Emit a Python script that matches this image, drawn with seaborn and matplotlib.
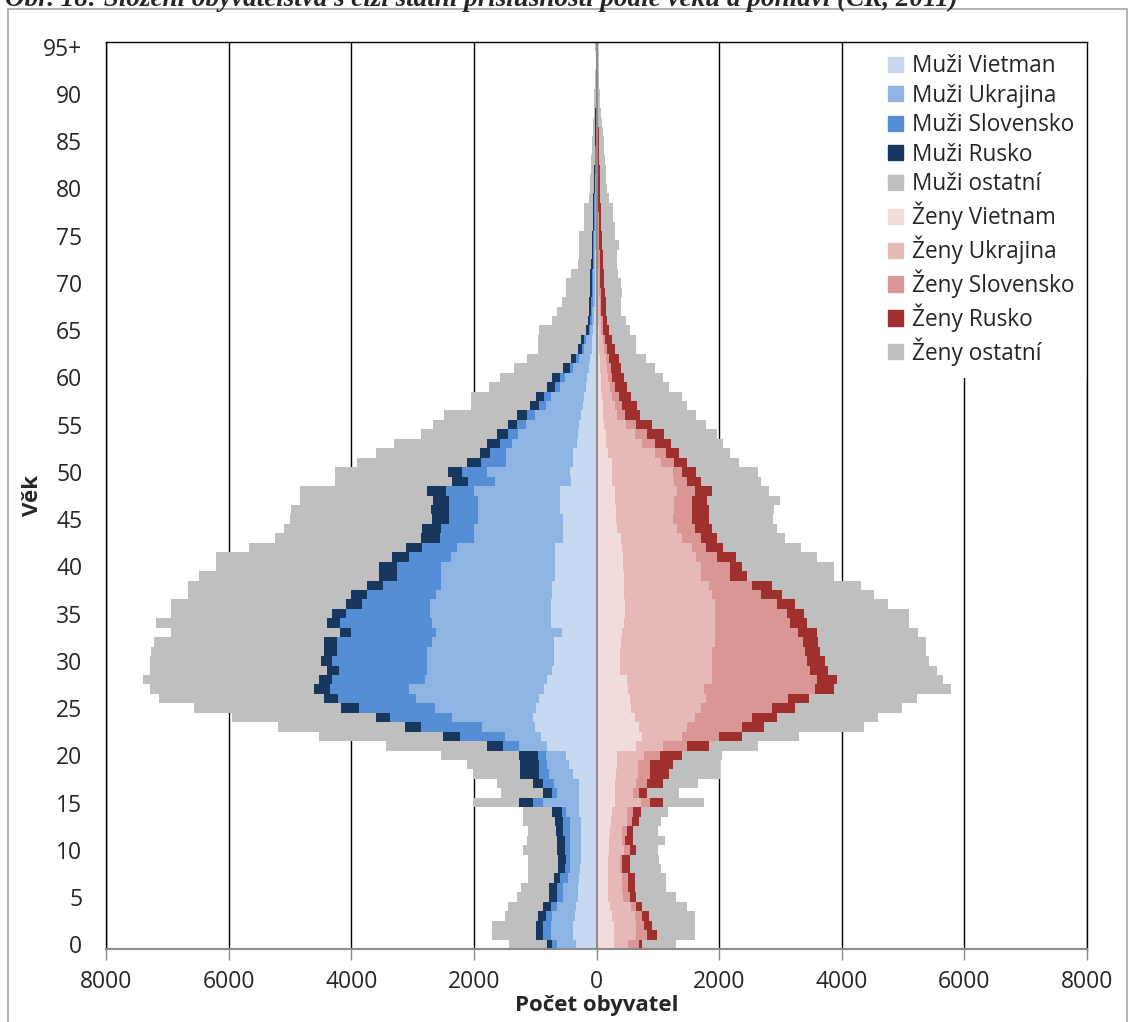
"""
Složení obyvatelstva s cizí státní příslušností podle věku a pohlaví (ČR, 2011)

Pyramida: muži vlevo, ženy vpravo, vrstvy podle státní příslušnosti.
"""

## Import packages
import numpy as np
import matplotlib.pyplot as plt
import matplotlib.patches as mpatches
import seaborn as sns


## Data (počty osob podle věku 0..95+)
ages = list(range(96))
age_ticks = list(range(0, 96, 5))
age_labels = [str(a) for a in age_ticks[:-1]] + ['95+']

muzi_vietnam = [330, 380, 380, 350, 330, 300, 300, 280, 270, 260, 250, 250, 250, 250, 280, 280, 280, 280, 390, 450,
                500, 800, 900, 1000, 1040, 980, 930, 850, 800, 720, 700, 690, 690, 570, 740, 740, 740, 720, 720, 680,
                670, 670, 670, 540, 540, 540, 600, 600, 600, 420, 440, 390, 390, 320, 300, 280, 250, 220, 200, 170,
                150, 120, 100, 80, 70, 50, 40, 35, 30, 30, 25, 25, 20, 20, 15, 15, 12, 10, 10, 8,
                8, 7, 6, 5, 5, 4, 4, 3, 3, 2, 2, 2, 1, 1, 1, 1]
muzi_ukrajina = [320, 370, 360, 370, 320, 250, 250, 180, 170, 180, 190, 190, 190, 190, 210, 600, 370, 420, 380, 350,
                 320, 460, 600, 860, 1310, 1660, 2010, 2200, 2000, 2040, 2060, 2070, 2000, 2040, 1950, 1980, 1980, 1890, 1810, 1850,
                 1860, 1700, 1600, 1450, 1450, 1390, 1340, 1340, 1390, 1240, 1340, 1080, 1080, 1060, 980, 870, 750, 600, 540, 430,
                 370, 260, 180, 120, 100, 60, 40, 35, 35, 30, 30, 25, 25, 20, 25, 20, 18, 18, 15, 14,
                 12, 10, 9, 8, 7, 6, 5, 5, 4, 3, 3, 2, 2, 1, 1, 1]
muzi_slovensko = [70, 130, 140, 100, 100, 100, 100, 130, 70, 60, 80, 80, 100, 110, 80, 160, 80, 180, 170, 140,
                  140, 270, 730, 1000, 1010, 1240, 1280, 1300, 1510, 1440, 1550, 1480, 1550, 1390, 1500, 1360, 1110, 1140, 960, 730,
                  730, 680, 580, 570, 540, 470, 460, 460, 460, 440, 410, 410, 270, 200, 160, 150, 130, 120, 110, 80,
                  80, 60, 50, 40, 30, 20, 20, 20, 20, 20, 20, 20, 15, 15, 10, 15, 15, 12, 13, 13,
                  10, 8, 8, 7, 6, 6, 5, 4, 4, 3, 3, 2, 2, 1, 1, 1]
muzi_rusko = [80, 100, 100, 130, 130, 120, 120, 110, 110, 120, 120, 120, 120, 120, 150, 230, 150, 160, 310, 310,
              310, 260, 280, 260, 240, 280, 220, 250, 210, 200, 180, 200, 200, 190, 210, 240, 250, 250, 260, 280,
              280, 290, 250, 300, 310, 280, 300, 270, 310, 250, 240, 240, 160, 200, 180, 150, 170, 140, 130, 120,
              120, 100, 90, 60, 60, 40, 40, 40, 35, 30, 35, 30, 30, 25, 30, 20, 20, 20, 17, 15,
              15, 14, 12, 12, 10, 10, 8, 8, 6, 6, 5, 4, 3, 3, 2, 3]
muzi_ostatni = [620, 720, 720, 550, 570, 520, 460, 420, 500, 500, 560, 500, 460, 530, 480, 750, 670, 590, 770, 870,
                1260, 1640, 2010, 2080, 2350, 2400, 2690, 2690, 2880, 2890, 2800, 2820, 2770, 2750, 2780, 2620, 2860, 2670, 2920, 2940,
                2660, 2860, 2560, 2390, 2250, 2320, 2280, 2170, 2080, 1920, 1840, 1780, 1690, 1520, 1240, 1220, 1180, 960, 1060, 950,
                860, 800, 720, 660, 700, 760, 590, 520, 450, 380, 380, 310, 210, 210, 210, 210, 135, 140, 145, 70,
                65, 60, 55, 50, 45, 45, 38, 33, 28, 24, 20, 16, 12, 10, 8, 12]

zeny_vietnam = [290, 290, 280, 250, 220, 190, 180, 180, 190, 190, 200, 210, 220, 240, 250, 300, 300, 300, 320, 330,
                340, 650, 750, 700, 620, 570, 550, 520, 490, 390, 380, 390, 400, 420, 450, 460, 460, 450, 450, 450,
                440, 440, 420, 400, 340, 320, 320, 300, 300, 260, 260, 250, 180, 160, 150, 130, 110, 100, 90, 80,
                70, 60, 50, 45, 40, 35, 30, 25, 25, 20, 20, 18, 15, 15, 12, 12, 10, 10, 8, 8,
                7, 6, 5, 5, 4, 4, 3, 3, 3, 2, 2, 2, 1, 1, 1, 1]
zeny_ukrajina = [220, 360, 370, 370, 340, 250, 240, 240, 190, 190, 250, 210, 200, 250, 250, 430, 300, 350, 350, 340,
                 440, 430, 650, 780, 980, 1140, 1240, 1240, 1400, 1490, 1500, 1490, 1540, 1520, 1490, 1480, 1480, 1440, 1390, 1260,
                 1270, 1190, 1130, 1000, 980, 920, 950, 970, 1020, 1010, 980, 810, 770, 590, 470, 350, 230, 200, 170, 140,
                 120, 110, 100, 75, 60, 45, 40, 30, 25, 25, 20, 17, 15, 15, 13, 13, 10, 10, 10, 7,
                 7, 6, 6, 5, 5, 4, 4, 3, 3, 3, 2, 2, 2, 1, 1, 1]
zeny_slovensko = [180, 180, 130, 130, 90, 100, 90, 90, 40, 40, 90, 50, 70, 90, 90, 140, 100, 180, 200, 200,
                  250, 390, 600, 900, 940, 1160, 1330, 1800, 1700, 1610, 1560, 1520, 1420, 1340, 1210, 1160, 1000, 800, 700, 460,
                  460, 340, 240, 310, 280, 310, 280, 280, 280, 200, 160, 210, 190, 200, 200, 170, 130, 120, 100, 80,
                  70, 60, 50, 50, 40, 30, 30, 25, 25, 25, 25, 25, 25, 20, 20, 15, 15, 15, 12, 13,
                  11, 10, 9, 8, 8, 7, 6, 5, 5, 4, 4, 3, 2, 2, 1, 2]
zeny_rusko = [60, 150, 120, 110, 100, 110, 120, 110, 120, 120, 110, 120, 100, 120, 130, 210, 130, 250, 320, 370,
              360, 370, 370, 360, 400, 360, 350, 320, 330, 280, 280, 250, 250, 310, 280, 290, 290, 330, 330, 290,
              210, 310, 270, 250, 280, 290, 290, 260, 290, 240, 230, 200, 210, 270, 280, 250, 240, 240, 210, 190,
              190, 170, 160, 130, 110, 90, 70, 80, 75, 70, 65, 60, 55, 50, 45, 45, 45, 40, 40, 37,
              35, 33, 30, 28, 25, 25, 22, 20, 18, 15, 12, 10, 8, 6, 5, 5]
zeny_ostatni = [550, 620, 700, 740, 720, 650, 510, 520, 510, 480, 350, 520, 410, 350, 440, 680, 520, 570, 830, 780,
                650, 790, 940, 1630, 1650, 1750, 1750, 1910, 1730, 1790, 1700, 1730, 1770, 1650, 1670, 1710, 1520, 1510, 1450, 1420,
                1500, 1310, 1280, 1110, 1060, 1040, 1060, 1180, 930, 980, 1000, 860, 820, 850, 870, 890, 920, 820, 830, 700,
                630, 550, 450, 350, 400, 340, 310, 240, 250, 280, 270, 230, 220, 230, 280, 215, 220, 195, 200, 145,
                110, 105, 100, 90, 85, 75, 65, 55, 45, 40, 30, 25, 20, 15, 12, 15]

muzi_names = ['Muži Vietman', 'Muži Ukrajina', 'Muži Slovensko', 'Muži Rusko', 'Muži ostatní']
zeny_names = ['Ženy Vietnam', 'Ženy Ukrajina', 'Ženy Slovensko', 'Ženy Rusko', 'Ženy ostatní']
muzi_colors = ['#C6D9F1', '#8DB4E2', '#558ED5', '#17375E', '#BFBFBF']
zeny_colors = ['#F2DCDB', '#E6B9B8', '#D99694', '#A0302E', '#BFBFBF']


## Define parameters for figure
tick_size = 16.5
label_size = 16
legend_size = 16.3
text_color = '#262626'


## Create figure
sns.set_theme(style='white')
plt.rcParams['font.family'] = ['Open Sans', 'DejaVu Sans']

fig = plt.figure(figsize=(11.3, 10.22), dpi=100)
ax = fig.add_axes([106 / 1130, 1 - 949 / 1022, (1087 - 106) / 1130, (949 - 42) / 1022])

# Stacked bars: cumulative sums, drawn from the outer layer inwards
muzi_cum = np.cumsum(np.array([muzi_vietnam, muzi_ukrajina, muzi_slovensko, muzi_rusko, muzi_ostatni]), axis=0)
zeny_cum = np.cumsum(np.array([zeny_vietnam, zeny_ukrajina, zeny_slovensko, zeny_rusko, zeny_ostatni]), axis=0)

for i in reversed(range(5)):
    sns.barplot(ax=ax, x=-muzi_cum[i], y=ages, orient='y', native_scale=True, width=1,
                color=muzi_colors[i], saturation=1, linewidth=0, errorbar=None)
    sns.barplot(ax=ax, x=zeny_cum[i], y=ages, orient='y', native_scale=True, width=1,
                color=zeny_colors[i], saturation=1, linewidth=0, errorbar=None)

# Axes limits and ticks
ax.set_xlim(-8000, 8000)
ax.set_ylim(-0.5, 95.5)
xticks = list(range(-8000, 8001, 2000))
ax.set_xticks(xticks, [str(abs(v)) for v in xticks])
ax.set_yticks(age_ticks, age_labels)
ax.tick_params(axis='x', labelsize=tick_size, labelcolor=text_color, length=8, width=1,
               color='#8c8c8c', direction='out', pad=7, bottom=True)
ax.tick_params(axis='y', labelsize=tick_size, labelcolor=text_color, length=0, pad=17)

# Gridlines and the zero axis
ax.grid(False)
ax.xaxis.grid(True, color='black', linewidth=1)
ax.set_axisbelow(True)
ax.axvline(0, color='#8c8c8c', linewidth=1.5, zorder=3)

for side in ['top', 'left', 'right']:
    ax.spines[side].set_color('black')
    ax.spines[side].set_linewidth(1)
ax.spines['bottom'].set_color('#8c8c8c')
ax.spines['bottom'].set_linewidth(1.5)
for sp in ax.spines.values():
    sp.set_zorder(6)

# Axis labels
ax.set_xlabel('Počet obyvatel', fontsize=label_size, fontweight='bold', color=text_color, labelpad=1)
ax.set_ylabel('Věk', fontsize=label_size, fontweight='bold', color=text_color)
ax.yaxis.set_label_coords(-0.064, 0.5)

# Legend
handles = [mpatches.Patch(color=c, label=n) for c, n in zip(muzi_colors + zeny_colors, muzi_names + zeny_names)]
leg = ax.legend(handles=handles, loc='upper right', bbox_to_anchor=(1, 1), fontsize=legend_size,
                frameon=True, fancybox=False, edgecolor='none', facecolor='white', framealpha=1,
                handlelength=0.65, handleheight=0.65, handletextpad=0.4, labelspacing=0.24,
                borderaxespad=0, borderpad=0.55)
for t in leg.get_texts():
    t.set_color(text_color)

# Title (cut at the top edge) and outer chart frame
fig.text(5 / 1130, 1 - 6 / 1022, 'Obr. 18: Složení obyvatelstva s cizí státní příslušností podle věku a pohlaví (ČR, 2011)',
         fontsize=19.5, fontweight='bold', fontstyle='italic', family=['Liberation Serif', 'DejaVu Serif'],
         va='baseline', ha='left')
fig.patches.append(mpatches.Rectangle((8 / 1130, -0.01), 1119 / 1130, 1 - 9 / 1022 + 0.01,
                                      transform=fig.transFigure, fill=False, edgecolor='#a6a6a6', linewidth=1.2))

# Save figure
plt.savefig('out.png', dpi=100)
